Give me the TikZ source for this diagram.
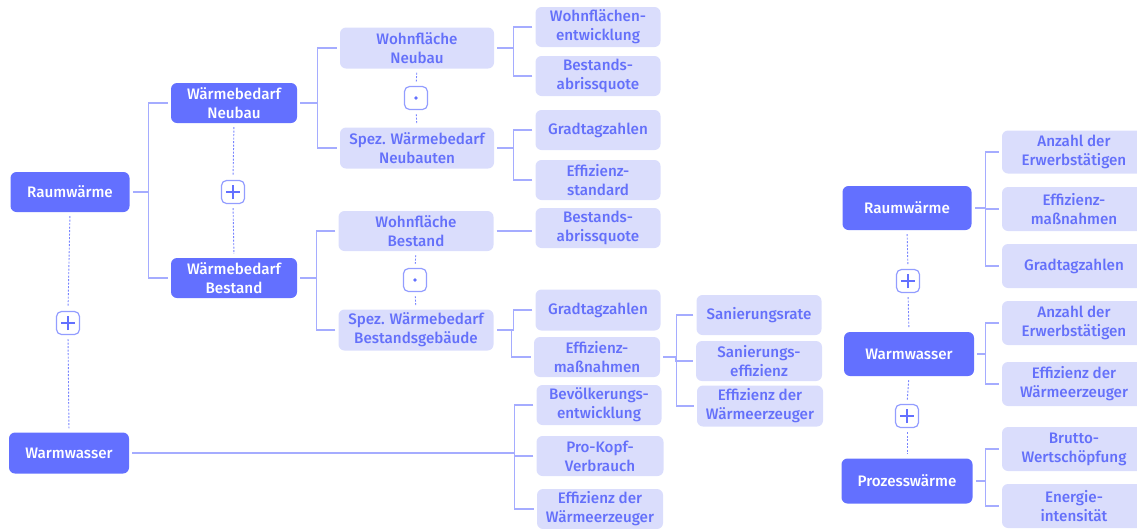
\documentclass[tikz,border=0pt]{standalone}
\usepackage{fontspec}
\setmainfont{Fira Sans}[UprightFont=* Medium]
\usepackage{tikz}
\definecolor{darkfill}{RGB}{99,112,255}
\definecolor{lightfill}{RGB}{218,221,252}
\definecolor{lighttext}{RGB}{100,112,250}
\definecolor{linkcol}{RGB}{165,172,255}
\definecolor{dashcol}{RGB}{120,132,255}
\tikzset{
  darkbox/.style={fill=darkfill, text=white, rounded corners=6pt, inner sep=0pt,
    minimum height=40pt, align=center, font=\fontsize{15.2}{19}\selectfont},
  lightbox/.style={fill=lightfill, text=lighttext, rounded corners=6pt, inner sep=0pt,
    minimum height=40pt, align=center, font=\fontsize{15.2}{19}\selectfont},
  link/.style={draw=linkcol, line width=1.2pt, shorten <=3pt, shorten >=3pt},
  dashlink/.style={draw=dashcol, line width=0.9pt, dash pattern=on 2pt off 1.5pt, shorten <=4pt, shorten >=4pt},
  opbox/.style={draw=dashcol!80, fill=white, line width=1.2pt, rounded corners=5pt,
    minimum width=23pt, minimum height=23pt, inner sep=0pt},
  plusop/.style={opbox, path picture={
    \draw[darkfill, line width=1.3pt] ([xshift=-7pt]path picture bounding box.center) -- ([xshift=7pt]path picture bounding box.center);
    \draw[darkfill, line width=1.3pt] ([yshift=-7pt]path picture bounding box.center) -- ([yshift=7pt]path picture bounding box.center);}},
  dotop/.style={opbox, path picture={
    \fill[darkfill] (path picture bounding box.center) circle (1.8pt);}}
}
\begin{document}
\begin{tikzpicture}[x=1pt, y=-1pt]
\clip (0,0) rectangle (1137,528);

\node[darkbox, minimum width=119pt] (raum) at (70,192) {Raumwärme};
\node[darkbox, minimum width=126pt] (wbNeu) at (234,103) {Wärmebedarf\\Neubau};
\node[darkbox, minimum width=126pt] (wbBest) at (234,278) {Wärmebedarf\\Bestand};
\node[plusop] (plusA) at (233,192) {};
\node[darkbox, minimum width=120pt, minimum height=41pt] (warm) at (69,453) {Warmwasser};
\node[plusop] (plusB) at (68,323) {};

\node[lightbox, minimum width=154pt, minimum height=41pt] (wfNeu) at (417,48) {Wohnfläche\\Neubau};
\node[lightbox, minimum width=154pt, minimum height=41pt] (spezNeu) at (417,148) {Spez. Wärmebedarf\\Neubauten};
\node[dotop] (dotA) at (416,98) {};
\node[lightbox, minimum width=155pt] (wfBest) at (416,231) {Wohnfläche\\Bestand};
\node[lightbox, minimum width=155pt, minimum height=41pt] (spezBest) at (416,330) {Spez. Wärmebedarf\\Bestandsgebäude};
\node[dotop] (dotB) at (415,280) {};

\node[lightbox, minimum width=125pt] (wfEntw) at (598,27) {Wohnflächen-\\entwicklung};
\node[lightbox, minimum width=125pt] (abrissA) at (598,76) {Bestands-\\abrissquote};
\node[lightbox, minimum width=125pt] (gradA) at (598,130) {Gradtagzahlen};
\node[lightbox, minimum width=125pt] (effStd) at (598,180) {Effizienz-\\standard};
\node[lightbox, minimum width=125pt] (abrissB) at (598,228) {Bestands-\\abrissquote};
\node[lightbox, minimum width=125pt, minimum height=41pt] (gradB) at (598,310) {Gradtagzahlen};
\node[lightbox, minimum width=126pt] (effMass) at (597,357) {Effizienz-\\maßnahmen};
\node[lightbox, minimum width=125pt] (sanRate) at (759,315) {Sanierungsrate};
\node[lightbox, minimum width=126pt] (sanEff) at (759,361) {Sanierungs-\\effizienz};
\node[lightbox, minimum width=126pt, minimum height=41pt] (effWEa) at (760,406) {Effizienz der\\Wärmeerzeuger};
\node[lightbox, minimum width=125pt] (bevEntw) at (599,405) {Bevölkerungs-\\entwicklung};
\node[lightbox, minimum width=127pt] (proKopf) at (600,456) {Pro-Kopf-\\Verbrauch};
\node[lightbox, minimum width=126pt] (effWEb) at (600,509) {Effizienz der\\Wärmeerzeuger};

\node[darkbox, minimum width=129pt, minimum height=44pt] (raumR) at (907,208) {Raumwärme};
\node[darkbox, minimum width=130pt, minimum height=44pt] (warmR) at (909,354) {Warmwasser};
\node[darkbox, minimum width=131pt, minimum height=45pt] (prozR) at (907,481) {Prozesswärme};
\node[plusop] (plusC) at (908,281) {};
\node[plusop] (plusD) at (907,416) {};

\node[lightbox, minimum width=144pt, minimum height=43pt] (anzahlA) at (1074,152) {Anzahl der\\Erwerbstätigen};
\node[lightbox, minimum width=144pt, minimum height=44pt] (effMassR) at (1074,209) {Effizienz-\\maßnahmen};
\node[lightbox, minimum width=144pt, minimum height=44pt] (gradR) at (1074,266) {Gradtagzahlen};
\node[lightbox, minimum width=144pt, minimum height=44pt] (anzahlB) at (1074,323) {Anzahl der\\Erwerbstätigen};
\node[lightbox, minimum width=144pt, minimum height=44pt] (effWER) at (1074,384) {Effizienz der\\Wärmeerzeuger};
\node[lightbox, minimum width=144pt, minimum height=44pt] (brutto) at (1074,449) {Brutto-\\Wertschöpfung};
\node[lightbox, minimum width=144pt, minimum height=44pt] (energie) at (1074,506) {Energie-\\intensität};

\foreach \c in {wbNeu,wbBest} \draw[link] (\c.west) -- ++(-22,0) |- (raum.east);
\foreach \c in {wfNeu,spezNeu} \draw[link] (\c.west) -- ++(-22,0) |- (wbNeu.east);
\foreach \c in {wfBest,spezBest} \draw[link] (\c.west) -- ++(-22,0) |- (wbBest.east);
\foreach \c in {wfEntw,abrissA} \draw[link] (\c.west) -- ++(-22,0) |- (wfNeu.east);
\foreach \c in {gradA,effStd} \draw[link] (\c.west) -- ++(-22,0) |- (spezNeu.east);
\draw[link] (wfBest.east) -- (wfBest.east -| abrissB.west);
\foreach \c in {gradB,effMass} \draw[link] (\c.west) -- ++(-22,0) |- (spezBest.east);
\foreach \c in {sanRate,sanEff,effWEa} \draw[link] (\c.west) -- ++(-20,0) |- (effMass.east);
\foreach \c in {bevEntw,proKopf,effWEb} \draw[link] (\c.west) -- ++(-22,0) |- (warm.east);
\foreach \c in {anzahlA,effMassR,gradR} \draw[link] (\c.west) -- ++(-16,0) |- (raumR.east);
\foreach \c in {anzahlB,effWER} \draw[link] (\c.west) -- ++(-16,0) |- (warmR.east);
\foreach \c in {brutto,energie} \draw[link] (\c.west) -- ++(-16,0) |- (prozR.east);

\draw[dashlink] (wbNeu.south) -- (plusA.north);
\draw[dashlink] (plusA.south) -- (wbBest.north);
\draw[dashlink] (raum.south) -- (plusB.north);
\draw[dashlink] (plusB.south) -- (warm.north);
\draw[dashlink] (wfNeu.south) -- (dotA.north);
\draw[dashlink] (dotA.south) -- (spezNeu.north);
\draw[dashlink] (wfBest.south) -- (dotB.north);
\draw[dashlink] (dotB.south) -- (spezBest.north);
\draw[dashlink] (raumR.south) -- (plusC.north);
\draw[dashlink] (plusC.south) -- (warmR.north);
\draw[dashlink] (warmR.south) -- (plusD.north);
\draw[dashlink] (plusD.south) -- (prozR.north);
\end{tikzpicture}
\end{document}
